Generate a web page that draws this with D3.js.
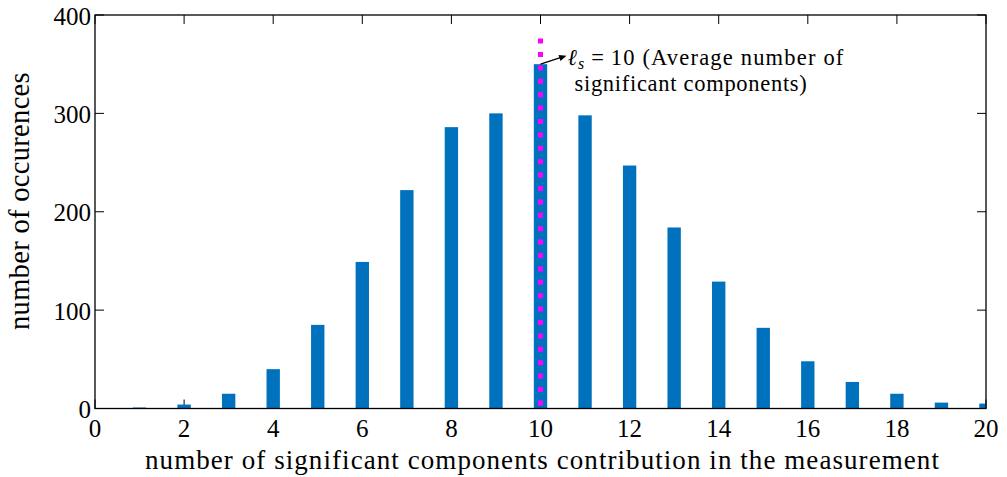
<!DOCTYPE html>
<html>
<head>
<meta charset="utf-8">
<script src="https://cdn.jsdelivr.net/npm/d3@7"></script>
<style>
  html, body { margin: 0; padding: 0; background: #fff; }
  svg { display: block; }
  text { font-family: "Liberation Serif", "Times New Roman", serif; fill: #000; }
</style>
</head>
<body>
<svg id="chart" width="1007" height="477"></svg>
<script>
// Histogram of how many significant components contribute per measurement
const components = [1, 2, 3, 4, 5, 6, 7, 8, 9, 10, 11, 12, 13, 14, 15, 16, 17, 18, 19, 20];
const occurrences = [1, 4, 15, 40, 85, 149, 222, 286, 300, 350, 298, 247, 184, 129, 82, 48, 27, 15, 6, 5];
const xTicks = [0, 2, 4, 6, 8, 10, 12, 14, 16, 18, 20];
const yTicks = [0, 100, 200, 300, 400];
const averageComponents = 10;
const averageBarTop = 350;
const xLabel = "number of significant components contribution in the measurement";
const yLabel = "number of occurences";
const noteLine1 = "(Average number of";
const noteLine2 = "significant components)";

const svg = d3.select("#chart");
const plotLeft = 95, plotRight = 986, plotTop = 15, plotBottom = 408.5;

const x = d3.scaleLinear().domain([0, 20]).range([plotLeft, plotRight]);
const y = d3.scaleLinear().domain([0, 400]).range([plotBottom, plotTop]);

const tickLen = 9;
const barWidth = 0.3;

// spread a text's letters so it spans a given width
function fitWidth(sel, target) {
  const node = sel.node();
  const w = node.getComputedTextLength();
  const n = node.textContent.length;
  sel.attr("letter-spacing", ((target - w) / n).toFixed(3));
}

svg.append("defs").append("clipPath").attr("id", "plotClip")
  .append("rect").attr("x", plotLeft).attr("y", plotTop)
  .attr("width", plotRight - plotLeft).attr("height", plotBottom - plotTop);

// inward tick marks on all four sides
const ticks = svg.append("g").attr("stroke", "#000").attr("stroke-width", 1);
ticks.append("g").selectAll("line").data(xTicks).join("line")
  .attr("x1", d => x(d)).attr("x2", d => x(d))
  .attr("y1", plotBottom).attr("y2", plotBottom - tickLen);
ticks.append("g").selectAll("line").data(xTicks).join("line")
  .attr("x1", d => x(d)).attr("x2", d => x(d))
  .attr("y1", plotTop).attr("y2", plotTop + tickLen);
ticks.append("g").selectAll("line").data(yTicks).join("line")
  .attr("x1", plotLeft).attr("x2", plotLeft + tickLen)
  .attr("y1", d => y(d)).attr("y2", d => y(d));
ticks.append("g").selectAll("line").data(yTicks).join("line")
  .attr("x1", plotRight).attr("x2", plotRight - tickLen)
  .attr("y1", d => y(d)).attr("y2", d => y(d));

// bars
svg.append("g").attr("clip-path", "url(#plotClip)")
  .selectAll("rect").data(components).join("rect")
  .attr("x", d => x(d - barWidth / 2))
  .attr("width", x(barWidth) - x(0))
  .attr("y", (d, i) => y(occurrences[i]))
  .attr("height", (d, i) => y(0) - y(occurrences[i]))
  .attr("fill", "#0072BD");

// dotted marker at the average
svg.append("line")
  .attr("x1", x(averageComponents)).attr("x2", x(averageComponents))
  .attr("y1", y(376)).attr("y2", y(0))
  .attr("stroke", "#FF00FF").attr("stroke-width", 5)
  .attr("stroke-dasharray", "5,8.4");

// axes box
svg.append("rect")
  .attr("x", plotLeft).attr("y", plotTop)
  .attr("width", plotRight - plotLeft).attr("height", plotBottom - plotTop)
  .attr("fill", "none").attr("stroke", "#000").attr("stroke-width", 1.3);

// tick labels
svg.append("g").selectAll("text").data(xTicks).join("text")
  .attr("x", d => x(d)).attr("y", 436.5)
  .attr("text-anchor", "middle").attr("font-size", 25)
  .text(d => d);
svg.append("g").selectAll("text").data(yTicks).join("text")
  .attr("x", plotLeft - 4).attr("y", d => y(d) + 9.5)
  .attr("text-anchor", "end").attr("font-size", 25)
  .text(d => d);

// axis titles
const xl = svg.append("text")
  .attr("x", (plotLeft + plotRight) / 2 + 2).attr("y", 469)
  .attr("text-anchor", "middle").attr("font-size", 27)
  .text(xLabel);
fitWidth(xl, 795);

const yl = svg.append("text")
  .attr("transform", "translate(28.5,201) rotate(-90)")
  .attr("text-anchor", "middle").attr("font-size", 28.5)
  .text(yLabel);
fitWidth(yl, 258);

// annotation with arrow
const ax0 = x(averageComponents), ay0 = y(averageBarTop);
const ax1 = ax0 + 26, ay1 = ay0 - 8.5;
const ang = Math.atan2(ay1 - ay0, ax1 - ax0);
const head = 8, spread = 0.4;
svg.append("line")
  .attr("x1", ax0).attr("y1", ay0).attr("x2", ax1 - Math.cos(ang) * 4).attr("y2", ay1 - Math.sin(ang) * 4)
  .attr("stroke", "#000").attr("stroke-width", 1.2);
svg.append("path")
  .attr("d", `M${ax1},${ay1}` +
    `L${ax1 - head * Math.cos(ang - spread)},${ay1 - head * Math.sin(ang - spread)}` +
    `L${ax1 - head * Math.cos(ang + spread)},${ay1 - head * Math.sin(ang + spread)}Z`)
  .attr("fill", "#000");

const note = svg.append("text")
  .attr("x", ax1 + 1).attr("y", ay0 + 0.5).attr("font-size", 22.5);
note.append("tspan").attr("font-style", "italic").text("ℓ");
note.append("tspan").attr("font-style", "italic").attr("font-size", 16).attr("dy", 4).text("s");
note.append("tspan").attr("dy", -4).text(`\u2009=\u2009${averageComponents} ${noteLine1}`);
fitWidth(note, 277);

const note2 = svg.append("text")
  .attr("x", ax1 + 8).attr("y", ay0 + 26.5).attr("font-size", 22.5)
  .text(noteLine2);
fitWidth(note2, 233);
</script>
</body>
</html>
